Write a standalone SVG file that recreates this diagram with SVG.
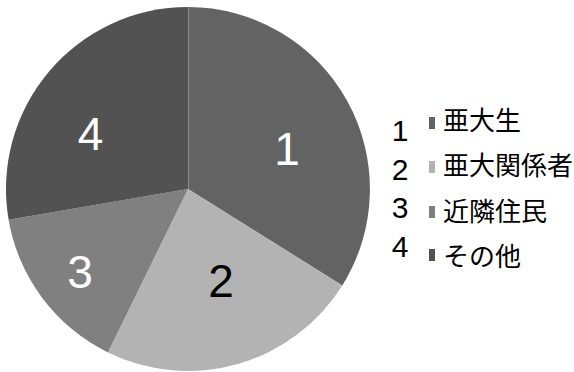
<svg xmlns="http://www.w3.org/2000/svg" width="574" height="372" viewBox="0 0 574 372">
<style>
.num{font-family:"Liberation Sans",Arial,sans-serif;text-anchor:middle}
.pl{font-size:46px}
.ln{font-size:30px;fill:#000}
.lt{font-family:"Noto Sans CJK JP","Noto Sans CJK SC",sans-serif;font-size:26px;fill:#000}
</style>
<rect width="574" height="372" fill="#fff"/>
<g id="slice1">
<path d="M188,189 L188,7 A182,182 0 0,1 342.3,285.4 Z" fill="#636363"/>
<text class="num pl" x="287" y="165" fill="#fff">1</text>
</g>
<g id="slice2">
<path d="M188,189 L342.3,285.4 A182,182 0 0,1 107.9,352.4 Z" fill="#b3b3b3"/>
<text class="num pl" x="221" y="297" fill="#000">2</text>
</g>
<g id="slice3">
<path d="M188,189 L107.9,352.4 A182,182 0 0,1 8.6,219.7 Z" fill="#808080"/>
<text class="num pl" x="80" y="288" fill="#fff">3</text>
</g>
<g id="slice4">
<path d="M188,189 L8.6,219.7 A182,182 0 0,1 188,7 Z" fill="#525252"/>
<text class="num pl" x="90.5" y="150" fill="#fff">4</text>
</g>
<g id="connectors">
<line x1="188.5" y1="7" x2="188.5" y2="189" stroke="#8c8c8c" stroke-width="1"/>
</g>
<g id="legend1">
<text class="num ln" x="400" y="141">1</text>
<rect x="429" y="117" width="6" height="12" fill="#636363"/>
<text class="lt" x="443" y="129.5">亜大生</text>
</g>
<g id="legend2">
<text class="num ln" x="400" y="180">2</text>
<rect x="429" y="161" width="6" height="12" fill="#b3b3b3"/>
<text class="lt" x="443" y="175">亜大関係者</text>
</g>
<g id="legend3">
<text class="num ln" x="400" y="218">3</text>
<rect x="429" y="206" width="6" height="12" fill="#808080"/>
<text class="lt" x="443" y="221">近隣住民</text>
</g>
<g id="legend4">
<text class="num ln" x="400" y="257">4</text>
<rect x="429" y="249" width="6" height="12" fill="#525252"/>
<text class="lt" x="443" y="266">その他</text>
</g>
</svg>
